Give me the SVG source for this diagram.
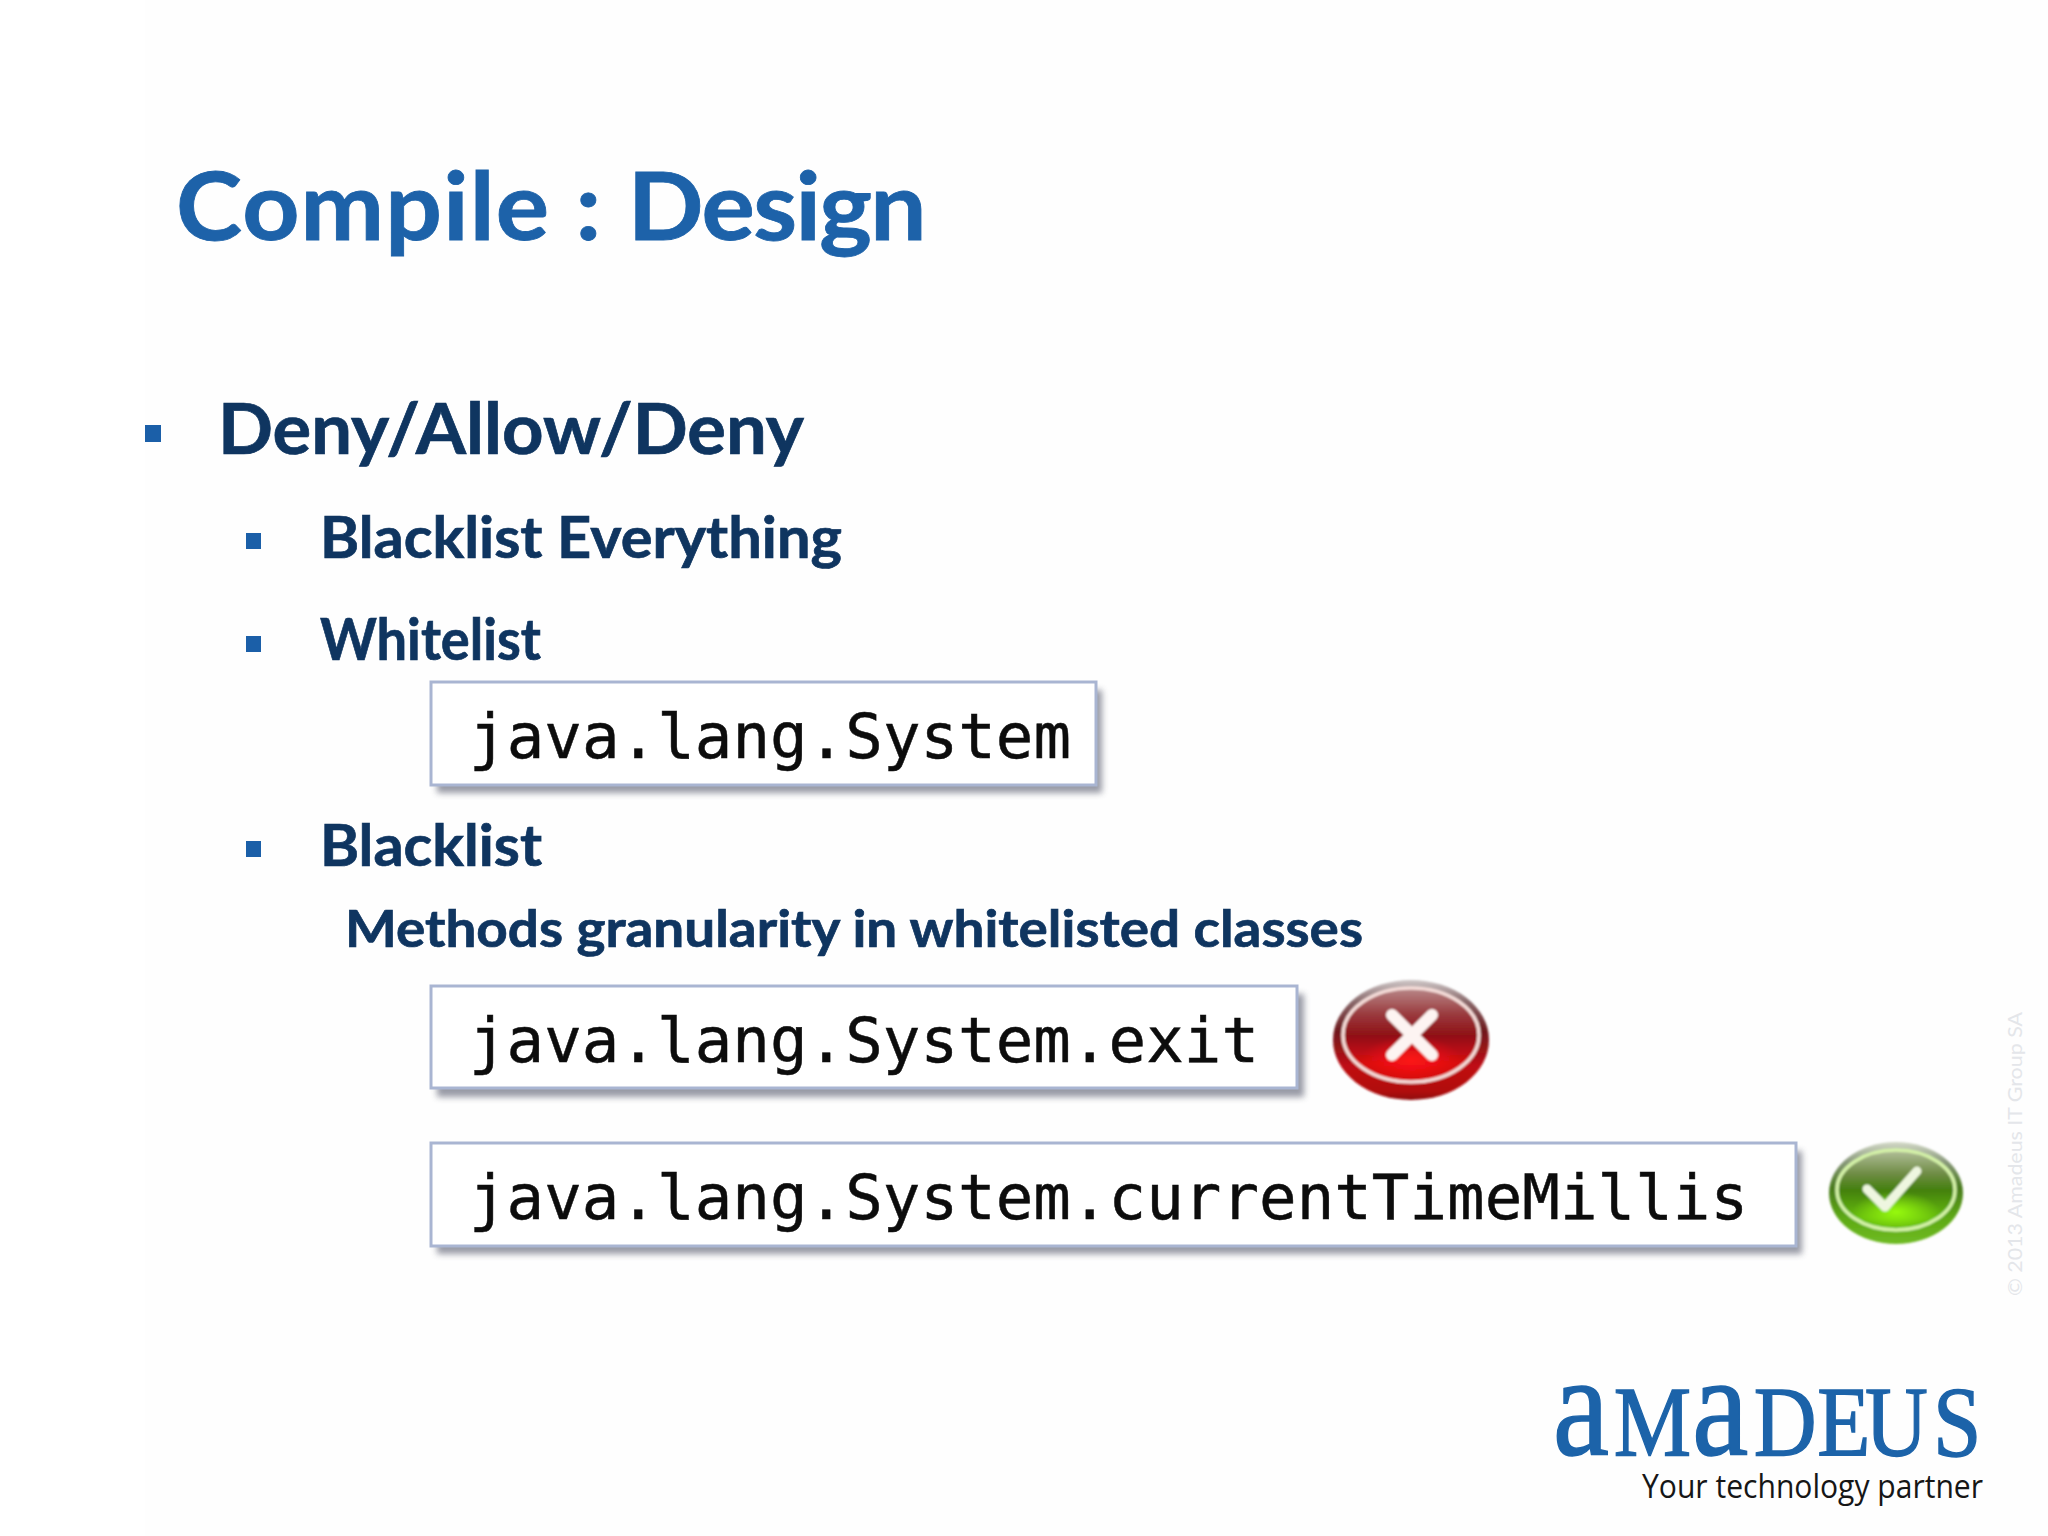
<svg xmlns="http://www.w3.org/2000/svg" width="2048" height="1536" viewBox="0 0 2048 1536">
<style>
.t{font-family:"Lato","Noto Sans",sans-serif;font-weight:700;fill:#0f3560;stroke:#0f3560;stroke-width:.7px}
.m{font-family:"DejaVu Sans Mono","Liberation Mono",monospace;font-size:62.4px;fill:#0c0c0c;stroke:#0c0c0c;stroke-width:.5px}
.b{fill:#1b5fa8}
.box{fill:#fff;stroke:#a9b5d2;stroke-width:3}
.sh{fill:#55586a;opacity:.6;filter:url(#blur)}
.logo{font-family:"Liberation Serif",serif;fill:#1c63a9;stroke:#1c63a9;stroke-width:1.4px}
.soft{filter:url(#soft)}
</style>
<defs>
<filter id="blur" x="-5%" y="-20%" width="110%" height="140%"><feGaussianBlur stdDeviation="3"/></filter>
<filter id="soft" x="-10%" y="-10%" width="120%" height="120%"><feGaussianBlur stdDeviation="1.2"/></filter>
<linearGradient id="redTop" x1="0" y1="0" x2="0" y2="1"><stop offset="0" stop-color="#b98a8a"/><stop offset=".28" stop-color="#9a3a3e"/><stop offset=".5" stop-color="#8f1116"/><stop offset=".8" stop-color="#d80d10"/><stop offset="1" stop-color="#c80a0e"/></linearGradient>
<radialGradient id="redGlow" cx=".5" cy=".5" r=".5"><stop offset="0" stop-color="#ff1414" stop-opacity=".95"/><stop offset="1" stop-color="#ff1414" stop-opacity="0"/></radialGradient>
<linearGradient id="redRim" x1="0" y1="0" x2="0" y2="1"><stop offset="0" stop-color="#cfc8c8"/><stop offset=".18" stop-color="#8a6a6c"/><stop offset=".42" stop-color="#6e1a1e"/><stop offset=".72" stop-color="#c00d12"/><stop offset=".93" stop-color="#b00c10"/><stop offset="1" stop-color="#8e0a0e"/></linearGradient>
<linearGradient id="greenTop" x1="0" y1="0" x2="0" y2="1"><stop offset="0" stop-color="#b4c09c"/><stop offset=".3" stop-color="#6e8c44"/><stop offset=".5" stop-color="#44800e"/><stop offset=".85" stop-color="#66bc0c"/><stop offset="1" stop-color="#5caa10"/></linearGradient>
<radialGradient id="greenGlow" cx=".5" cy=".5" r=".5"><stop offset="0" stop-color="#9aff10" stop-opacity=".95"/><stop offset="1" stop-color="#9aff10" stop-opacity="0"/></radialGradient>
<linearGradient id="greenRim" x1="0" y1="0" x2="0" y2="1"><stop offset="0" stop-color="#d4dac8"/><stop offset=".2" stop-color="#88987a"/><stop offset=".45" stop-color="#4a7c1e"/><stop offset=".75" stop-color="#5eaa14"/><stop offset="1" stop-color="#70bb24"/></linearGradient>
</defs>
<rect width="2048" height="1536" fill="#fff"/>
<rect x="145" y="0" width="1903" height="1536" fill="#fefefe"/>

<g id="title"><text x="176" y="240" font-size="94" textLength="749" lengthAdjust="spacingAndGlyphs" style="font-family:Lato,'Noto Sans',sans-serif;font-weight:700;fill:#1d62a9;stroke:#1d62a9;stroke-width:.8px"><tspan letter-spacing="1.1">Compile : </tspan><tspan letter-spacing="-1.5">Design</tspan></text></g>

<g id="bullet-deny">
<rect class="b" x="145" y="425" width="16" height="17"/>
<text class="t" x="218" y="454" font-size="70" textLength="586" lengthAdjust="spacingAndGlyphs">Deny/Allow/Deny</text>
</g>
<g id="bullet-blacklist-everything">
<rect class="b" x="246" y="533" width="15" height="16"/>
<text class="t" x="320" y="558" font-size="58" textLength="522" lengthAdjust="spacingAndGlyphs">Blacklist Everything</text>
</g>
<g id="bullet-whitelist">
<rect class="b" x="246" y="636" width="15" height="16"/>
<text class="t" x="320" y="660" font-size="58" textLength="221" lengthAdjust="spacingAndGlyphs">Whitelist</text>
</g>
<g id="box-system">
<rect class="sh" x="437" y="690" width="665" height="103"/>
<rect class="box" x="431" y="682" width="665" height="103"/>
<text class="m" x="469" y="758" textLength="602">java.lang.System</text>
</g>
<g id="bullet-blacklist">
<rect class="b" x="246" y="841" width="15" height="16"/>
<text class="t" x="320" y="866" font-size="58" textLength="222" lengthAdjust="spacingAndGlyphs">Blacklist</text>
</g>
<g id="methods-text">
<text class="t" x="345" y="947" font-size="51" textLength="1018" lengthAdjust="spacingAndGlyphs">Methods granularity in whitelisted classes</text>
</g>
<g id="box-exit">
<rect class="sh" x="437" y="994" width="867" height="103"/>
<rect class="box" x="431" y="986" width="866" height="102"/>
<text class="m" x="469" y="1062" textLength="790">java.lang.System.exit</text>
</g>
<g id="box-millis">
<rect class="sh" x="437" y="1151" width="1365" height="103"/>
<rect class="box" x="431" y="1143" width="1365" height="103"/>
<text class="m" x="469" y="1219" textLength="1279">java.lang.System.currentTimeMillis</text>
</g>

<g id="icon-deny">
<g class="soft">
<ellipse cx="1411" cy="1040" rx="78" ry="60" fill="url(#redRim)"/>
<ellipse cx="1411" cy="1035" rx="68" ry="47" fill="url(#redTop)"/>
<ellipse cx="1411" cy="1060" rx="50" ry="24" fill="url(#redGlow)"/>
<ellipse cx="1411" cy="1035" rx="68" ry="47" fill="none" stroke="#f4dcd8" stroke-width="3.5"/>
<path d="M1392 1015L1432 1055M1432 1015L1392 1055" stroke="#fdf4f2" stroke-width="12" stroke-linecap="round"/>
</g>
</g>
<g id="icon-allow">
<g class="soft">
<ellipse cx="1896" cy="1193" rx="67" ry="51" fill="url(#greenRim)"/>
<ellipse cx="1896" cy="1190" rx="59" ry="40" fill="url(#greenTop)"/>
<ellipse cx="1896" cy="1212" rx="44" ry="20" fill="url(#greenGlow)"/>
<ellipse cx="1896" cy="1190" rx="59" ry="40" fill="none" stroke="#d4f2a8" stroke-width="3.5"/>
<path d="M1867 1189L1885 1207L1917 1171" fill="none" stroke="#eef6e0" stroke-width="9" stroke-linecap="round" stroke-linejoin="round"/>
</g>
</g>

<g id="watermark"><text transform="translate(2022 1296) rotate(-90)" font-size="20" textLength="284" lengthAdjust="spacingAndGlyphs" style="font-family:Lato,sans-serif;fill:#e4e6ea">© 2013 Amadeus IT Group SA</text></g>

<g id="logo">
<text class="logo" y="1455" transform="translate(1558 0) scale(.87 1)"><tspan x="-6" font-size="146">a</tspan><tspan x="64" font-size="100">M</tspan><tspan x="154" font-size="146">a</tspan><tspan x="225" font-size="100">D</tspan><tspan x="298" font-size="100">E</tspan><tspan x="353" font-size="100">U</tspan><tspan x="431" font-size="100">S</tspan></text>
<text x="1642" y="1498" font-size="33" textLength="341" lengthAdjust="spacingAndGlyphs" style="font-family:'Open Sans',sans-serif;fill:#161616">Your technology partner</text>
</g>
</svg>
